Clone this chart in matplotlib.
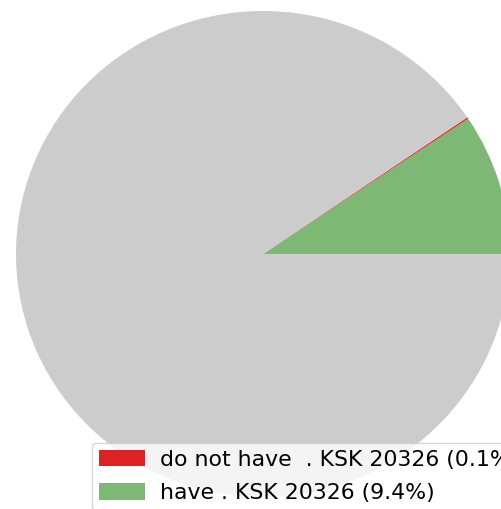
import matplotlib.pyplot as plt

# slice shares (percent), drawn counterclockwise from 3 o'clock
labels = ["have . KSK 20326 (9.4%)", "do not have  . KSK 20326 (0.1%)", "other"]
shares = [9.4, 0.1, 90.5]
colors = ["#7db874", "#dc2222", "#cccccc"]

W, H = 502, 509
cx, cy = 263, 254   # pie centre in pixels
rx, ry = 247, 243   # horizontal / vertical radius in pixels

fig = plt.figure(figsize=(W / 100, H / 100), dpi=100)
ax = fig.add_axes([0, 0, 1, 1])
wedges, _ = ax.pie(shares, colors=colors, startangle=0, counterclock=True,
                   wedgeprops=dict(linewidth=0))
ax.set_aspect('auto')
ax.set_xlim(-cx / rx, (W - cx) / rx)
ax.set_ylim(-(H - cy) / ry, cy / ry)
ax.axis('off')

fig.legend([wedges[1], wedges[0]], [labels[1], labels[0]],
           loc='upper left', bbox_to_anchor=(92 / W, 1 - 443 / H),
           bbox_transform=fig.transFigure, fontsize=15.8,
           handlelength=2.1, handleheight=0.8, handletextpad=0.7,
           labelspacing=0.62, borderpad=0.3, borderaxespad=0)

fig.savefig("out.png", dpi=100)
